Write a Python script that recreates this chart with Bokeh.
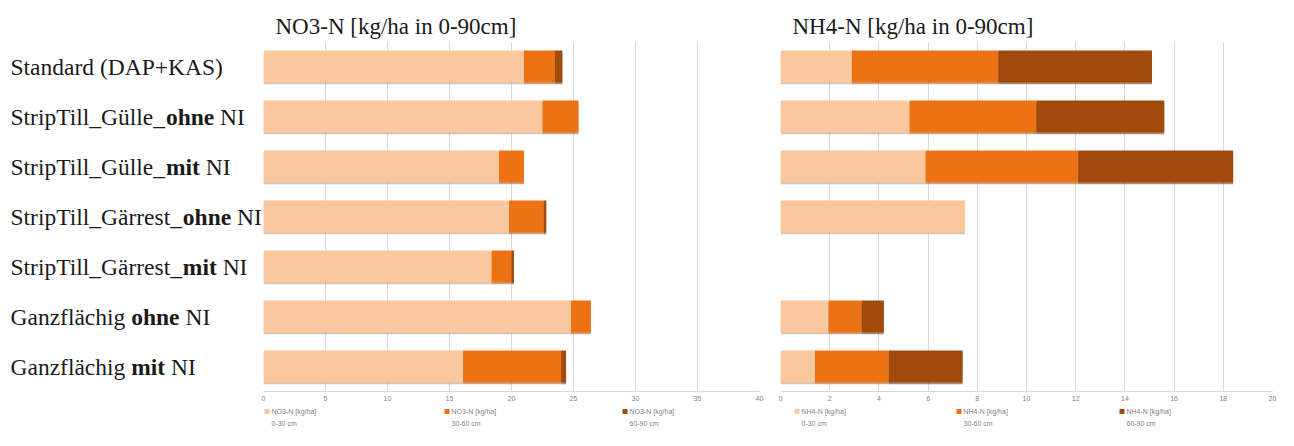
from bokeh.plotting import figure
from bokeh.models import ColumnDataSource, FactorRange, Range1d, FixedTicker, Spacer
from bokeh.layouts import row, column
from bokeh.embed import file_html
from bokeh.resources import INLINE
from bokeh.core.properties import value
from bokeh.transform import dodge

# ---------------- data ----------------
CATEGORIES = [
    "Standard (DAP+KAS)",
    "StripTill_Gülle_ohne NI",
    "StripTill_Gülle_mit NI",
    "StripTill_Gärrest_ohne NI",
    "StripTill_Gärrest_mit NI",
    "Ganzflächig ohne NI",
    "Ganzflächig mit NI",
]
# label pieces (text, weight) for mixed bold rendering
LABEL_PARTS = [
    [("Standard (DAP+KAS)", "normal")],
    [("StripTill_Gülle_", "normal"), ("ohne", "bold"), (" NI", "normal")],
    [("StripTill_Gülle_", "normal"), ("mit", "bold"), (" NI", "normal")],
    [("StripTill_Gärrest_", "normal"), ("ohne", "bold"), (" NI", "normal")],
    [("StripTill_Gärrest_", "normal"), ("mit", "bold"), (" NI", "normal")],
    [("Ganzflächig ", "normal"), ("ohne", "bold"), (" NI", "normal")],
    [("Ganzflächig ", "normal"), ("mit", "bold"), (" NI", "normal")],
]

NO3_0_30 = [21.0, 22.5, 19.0, 19.8, 18.4, 24.8, 16.1]
NO3_30_60 = [2.5, 2.9, 2.0, 2.8, 1.6, 1.6, 7.9]
NO3_60_90 = [0.6, 0.0, 0.0, 0.2, 0.2, 0.0, 0.4]

NH4_0_30 = [2.9, 5.25, 5.9, 7.5, 0.0, 1.95, 1.4]
NH4_30_60 = [5.95, 5.15, 6.2, 0.0, 0.0, 1.35, 3.0]
NH4_60_90 = [6.25, 5.2, 6.3, 0.0, 0.0, 0.9, 3.0]

NO3_TICKS = [0, 5, 10, 15, 20, 25, 30, 35, 40]
NH4_TICKS = [0, 2, 4, 6, 8, 10, 12, 14, 16, 18, 20]

NO3_TITLE = "NO3-N [kg/ha in 0-90cm]"
NH4_TITLE = "NH4-N [kg/ha in 0-90cm]"
NO3_LEGEND_1 = ["NO3-N [kg/ha]", "NO3-N [kg/ha]", "NO3-N [kg/ha]"]
NH4_LEGEND_1 = ["NH4-N [kg/ha]", "NH4-N [kg/ha]", "NH4-N [kg/ha]"]
LEGEND_2 = ["0-30 cm", "30-60 cm", "60-90 cm"]

COLORS = ["#FBC79C", "#EC7214", "#A04B0C"]
SHADOW = ["#B89478", "#9A5A2A", "#5E3210"]

# ---------------- layout constants ----------------
TOP = 41
FRAME_H = 350
AX_BOTTOM = 14
H = TOP + FRAME_H + AX_BOTTOM
LEG_H = 32
SERIF = "Liberation Serif"
LABEL_SIZE = 23.5
TITLE_SIZE = "23px"
LW = 261
P1_W = 2 + 496 + 10
P2_W = 11 + 492 + 12
LEG1_X = [3, 183, 361]
LEG2_X = [25, 187, 350]
BAR_H = 0.64

factors = list(reversed(CATEGORIES))

# Times-like metrics (per 1000 em) for label piece positioning
REG = {" ": 250, "(": 333, ")": 333, "+": 564, "_": 500, "A": 722, "D": 722, "G": 722,
       "I": 333, "K": 722, "N": 722, "P": 556, "S": 556, "T": 611, "a": 444, "c": 444,
       "d": 500, "e": 444, "f": 333, "g": 500, "h": 500, "i": 278, "l": 278, "m": 778,
       "n": 500, "o": 500, "p": 500, "r": 333, "s": 389, "t": 278, "z": 444, "ä": 444, "ü": 500}
BOLD = {" ": 250, "m": 833, "i": 278, "t": 333, "o": 500, "h": 556, "n": 556, "e": 444}


def text_width(s, weight):
    table = BOLD if weight == "bold" else REG
    return sum(table.get(ch, 500) for ch in s) * LABEL_SIZE / 1000.0


# ---------------- label figure ----------------
lab = figure(width=LW, height=H, x_range=Range1d(0, LW), y_range=FactorRange(factors=factors),
             output_backend="svg", toolbar_location=None,
             min_border_left=0, min_border_right=0, min_border_top=TOP, min_border_bottom=AX_BOTTOM)
lab.axis.visible = False
lab.grid.visible = False
lab.outline_line_color = None

for weight in ["normal", "bold"]:
    xs, ys, ts = [], [], []
    for cat, parts in zip(CATEGORIES, LABEL_PARTS):
        x = 10.0
        for t, w in parts:
            lead = len(t) - len(t.lstrip(" "))
            if w == weight:
                xs.append(x + text_width(" " * lead, w))
                ys.append(cat)
                ts.append(t.strip(" "))
            x += text_width(t, w)
    src = ColumnDataSource(dict(x=xs, y=ys, text=ts))
    lab.text(x="x", y="y", text="text", source=src, text_font=value(SERIF),
             text_font_size=f"{LABEL_SIZE}px", text_font_style=weight,
             text_baseline="middle", text_align="left", text_color="#1a1a1a")


def panel(width, xmax, ticks, title, s1, s2, s3, mbl, mbr):
    p = figure(width=width, height=H, x_range=Range1d(0, xmax), y_range=FactorRange(factors=factors),
               output_backend="svg", toolbar_location=None,
               min_border_left=mbl, min_border_right=mbr, min_border_top=TOP,
               min_border_bottom=AX_BOTTOM)
    p.title.text = title
    p.title.text_font = SERIF
    p.title.text_font_size = TITLE_SIZE
    p.title.text_font_style = "normal"
    p.title.text_color = "#1a1a1a"
    p.title.offset = 12
    p.title.standoff = 5
    src = ColumnDataSource(dict(cat=CATEGORIES, a=s1, b=s2, c=s3))
    # soft shadow under the bars
    p.hbar_stack(["a", "b", "c"], y=dodge("cat", -0.035, range=p.y_range), height=BAR_H,
                 color=SHADOW, alpha=0.55, source=src, line_width=0)
    p.hbar_stack(["a", "b", "c"], y="cat", height=BAR_H, color=COLORS, source=src, line_width=0)
    p.yaxis.visible = False
    p.ygrid.visible = False
    p.xgrid.grid_line_color = "#d9d9d9"
    p.outline_line_color = None
    p.xaxis.ticker = FixedTicker(ticks=ticks)
    p.xaxis.axis_line_color = "#d9d9d9"
    p.xaxis.major_tick_line_color = None
    p.xaxis.major_tick_out = 0
    p.xaxis.major_tick_in = 0
    p.xaxis.minor_tick_line_color = None
    p.xaxis.major_label_text_font_size = "7px"
    p.xaxis.major_label_text_color = "#7f7f7f"
    p.xaxis.major_label_standoff = 4
    return p


def legend_fig(width, xs, line1):
    f = figure(width=width, height=LEG_H, x_range=Range1d(0, width), y_range=Range1d(LEG_H, 0),
               output_backend="svg", toolbar_location=None,
               min_border_left=0, min_border_right=0, min_border_top=0, min_border_bottom=0)
    f.axis.visible = False
    f.grid.visible = False
    f.outline_line_color = None
    f.rect(x=[x + 2.5 for x in xs], y=[6] * 3, width=5, height=5, fill_color=COLORS, line_color=None)
    f.text(x=[x + 7 for x in xs], y=[6] * 3, text=line1, text_font=value("Liberation Sans"),
           text_font_size="7px", text_color="#7f7f7f", text_baseline="middle")
    f.text(x=[x + 7 for x in xs], y=[18] * 3, text=LEGEND_2, text_font=value("Liberation Sans"),
           text_font_size="7px", text_color="#7f7f7f", text_baseline="middle")
    return f


p1 = panel(P1_W, 40, NO3_TICKS, NO3_TITLE, NO3_0_30, NO3_30_60, NO3_60_90, 2, 10)
p2 = panel(P2_W, 20, NH4_TICKS, NH4_TITLE, NH4_0_30, NH4_30_60, NH4_60_90, 11, 12)

l1 = legend_fig(P1_W, LEG1_X, NO3_LEGEND_1)
l2 = legend_fig(P2_W, LEG2_X, NH4_LEGEND_1)

layout = column(row(lab, p1, p2, spacing=0),
                row(Spacer(width=LW, height=LEG_H), l1, l2, spacing=0), spacing=0)
open("out.html", "w").write(file_html(layout, INLINE))
